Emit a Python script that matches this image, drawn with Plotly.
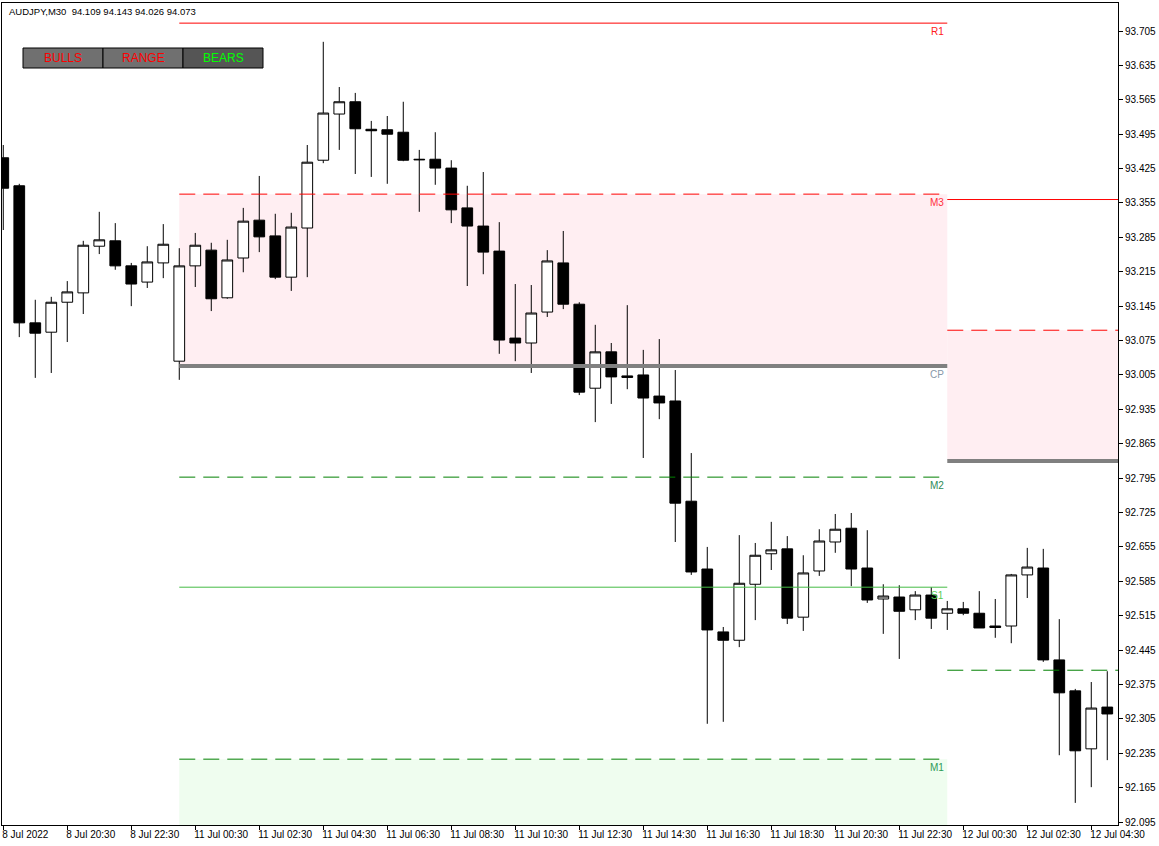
import plotly.graph_objects as go

# ---------------- data ----------------
symbol_header = "AUDJPY,M30\u00a0 94.109 94.143 94.026 94.073"

bar_index = list(range(70))
opens = [93.447, 93.390, 93.111, 93.092, 93.153, 93.172, 93.267, 93.278, 93.227, 93.194,
         93.233, 93.033, 93.227, 93.259, 93.162, 93.243, 93.320, 93.288, 93.204, 93.304,
         93.442, 93.536, 93.561, 93.505, 93.504, 93.499, 93.444, 93.444, 93.426, 93.345,
         93.308, 93.257, 93.080, 93.070, 93.133, 93.233, 93.149, 92.978, 93.052, 93.003,
         93.005, 92.962, 92.952, 92.748, 92.610, 92.482, 92.465, 92.579, 92.641, 92.651,
         92.512, 92.606, 92.665, 92.693, 92.612, 92.549, 92.553, 92.527, 92.557, 92.520,
         92.529, 92.520, 92.494, 92.494, 92.598, 92.612, 92.425, 92.362, 92.244, 92.329]
highs = [93.473, 93.394, 93.158, 93.164, 93.196, 93.278, 93.337, 93.314, 93.233, 93.267,
         93.312, 93.263, 93.294, 93.274, 93.280, 93.345, 93.410, 93.333, 93.335, 93.473,
         93.683, 93.591, 93.579, 93.522, 93.532, 93.561, 93.463, 93.499, 93.442, 93.390,
         93.418, 93.316, 93.190, 93.188, 93.259, 93.298, 93.153, 93.107, 93.070, 93.147,
         93.056, 93.078, 93.015, 92.846, 92.655, 92.492, 92.679, 92.663, 92.706, 92.677,
         92.638, 92.691, 92.722, 92.724, 92.689, 92.579, 92.577, 92.565, 92.573, 92.545,
         92.543, 92.565, 92.549, 92.600, 92.653, 92.651, 92.508, 92.366, 92.380, 92.402]
lows = [93.300, 93.082, 92.999, 93.009, 93.072, 93.129, 93.251, 93.219, 93.145, 93.182,
        93.202, 92.995, 93.184, 93.135, 93.160, 93.214, 93.255, 93.200, 93.176, 93.204,
        93.436, 93.463, 93.414, 93.408, 93.394, 93.440, 93.337, 93.392, 93.314, 93.186,
        93.210, 93.048, 93.033, 93.009, 93.123, 93.139, 92.964, 92.909, 92.946, 92.976,
        92.836, 92.915, 92.665, 92.598, 92.295, 92.299, 92.451, 92.506, 92.608, 92.498,
        92.484, 92.596, 92.643, 92.575, 92.541, 92.478, 92.427, 92.506, 92.488, 92.486,
        92.516, 92.490, 92.470, 92.459, 92.551, 92.421, 92.231, 92.134, 92.166, 92.221]
closes = [93.385, 93.111, 93.090, 93.153, 93.174, 93.269, 93.280, 93.227, 93.190, 93.235,
          93.271, 93.227, 93.269, 93.160, 93.239, 93.318, 93.286, 93.204, 93.306, 93.438,
          93.538, 93.561, 93.506, 93.502, 93.495, 93.442, 93.443, 93.426, 93.341, 93.308,
          93.255, 93.076, 93.070, 93.131, 93.237, 93.149, 92.970, 93.052, 93.001, 93.000,
          92.958, 92.948, 92.744, 92.604, 92.486, 92.465, 92.581, 92.638, 92.649, 92.510,
          92.602, 92.667, 92.691, 92.610, 92.547, 92.555, 92.524, 92.557, 92.510, 92.529,
          92.520, 92.490, 92.491, 92.598, 92.614, 92.425, 92.358, 92.240, 92.327, 92.315]

x_tick_bars = [0, 4, 8, 12, 16, 20, 24, 28, 32, 36, 40, 44, 48, 52, 56, 60, 64, 68]
x_tick_labels = ["8 Jul 2022", "8 Jul 20:30", "8 Jul 22:30",
                 "11 Jul 00:30", "11 Jul 02:30", "11 Jul 04:30", "11 Jul 06:30",
                 "11 Jul 08:30", "11 Jul 10:30", "11 Jul 12:30", "11 Jul 14:30",
                 "11 Jul 16:30", "11 Jul 18:30", "11 Jul 20:30", "11 Jul 22:30",
                 "12 Jul 00:30", "12 Jul 02:30", "12 Jul 04:30"]

y_tick_values = [92.095, 92.165, 92.235, 92.305, 92.375, 92.445, 92.515, 92.585,
                 92.655, 92.725, 92.795, 92.865, 92.935, 93.005, 93.075, 93.145,
                 93.215, 93.285, 93.355, 93.425, 93.495, 93.565, 93.635, 93.705]
y_tick_labels = ["92.095", "92.165", "92.235", "92.305", "92.375", "92.445", "92.515", "92.585",
                 "92.655", "92.725", "92.795", "92.865", "92.935", "93.005", "93.075", "93.145",
                 "93.215", "93.285", "93.355", "93.425", "93.495", "93.565", "93.635", "93.705"]
y_min, y_max = 92.089, 93.762

# pivot levels (day 1: 11 Jul, day 2: 12 Jul)
day1_start, day1_end = 11, 59
day1_names = ["R1", "M3", "CP", "M2", "S1", "M1"]
day1_values = [93.721, 93.373, 93.023, 92.797, 92.573, 92.223]
day2_start, day2_end = 59, 71
day2_names = ["R1", "M3", "CP", "M2"]
day2_values = [93.362, 93.096, 92.830, 92.404]

button_labels = ["BULLS", "RANGE", "BEARS"]

# ---------------- styles ----------------
FONT = "Liberation Sans, Arial, sans-serif"
DASH = "16px,8px"
level_style = {
    "R1": dict(color="#FF0000", width=1, dash="solid"),
    "M3": dict(color="#FF0000", width=1, dash=DASH),
    "CP": dict(color="#808080", width=4, dash="solid"),
    "M2": dict(color="#008000", width=1, dash=DASH),
    "S1": dict(color="#44BB44", width=1, dash="solid"),
    "M1": dict(color="#008000", width=1, dash=DASH),
}
label_color = {"R1": "#FF2020", "M3": "#FF3040", "CP": "#8898A8",
               "M2": "#2E8B57", "S1": "#55CC55", "M1": "#2E9B57"}
button_fill = {"BULLS": "#707070", "RANGE": "#707070", "BEARS": "#555555"}
button_text = {"BULLS": "#FF0000", "RANGE": "#FF0000", "BEARS": "#00FF00"}

fig = go.Figure()

# zones (background)
d1 = dict(zip(day1_names, day1_values))
d2 = dict(zip(day2_names, day2_values))
zones = [
    (day1_start, day1_end, d1["CP"], d1["M3"], "#FFEEF2"),
    (day1_start, day1_end, y_min, d1["M1"], "#EFFDEF"),
    (day2_start, day2_end, d2["CP"], d2["M3"], "#FFEEF2"),
]
for x0, x1, ya, yb, col in zones:
    fig.add_shape(type="rect", xref="x", yref="y", x0=x0, x1=x1, y0=ya, y1=yb,
                  fillcolor=col, line=dict(width=0), layer="below")

fig.add_trace(go.Candlestick(
    x=bar_index, open=opens, high=highs, low=lows, close=closes,
    increasing=dict(fillcolor="white", line=dict(color="black", width=1)),
    decreasing=dict(fillcolor="black", line=dict(color="black", width=1)),
    whiskerwidth=0, hoverinfo="skip", showlegend=False))

# level lines
for start, end, names, values in [(day1_start, day1_end, day1_names, day1_values),
                                  (day2_start, day2_end, day2_names, day2_values)]:
    for n, v in zip(names, values):
        fig.add_trace(go.Scatter(x=[start, end], y=[v, v], mode="lines",
                                 line=level_style[n], hoverinfo="skip", showlegend=False))

# labels of day-1 levels
for n, v in zip(day1_names, day1_values):
    fig.add_annotation(x=day1_end - 0.05, y=v, xref="x", yref="y", text=n, showarrow=False,
                       xanchor="right", yanchor="top", yshift=-1,
                       font=dict(family=FONT, size=10, color=label_color[n]))

# ---------------- layout ----------------
W, H = 1159, 846
ML, MR, MT, MB = 2, 41, 3, 21
PW, PH = W - ML - MR, H - MT - MB


def px(xp):
    return (xp - ML) / PW


def py(yp):
    return 1 - (yp - MT) / PH


# header text
fig.add_annotation(x=px(7), y=py(4), xref="paper", yref="paper", text=symbol_header,
                   showarrow=False, xanchor="left", yanchor="top",
                   font=dict(family=FONT, size=9.5, color="black"))

# buttons
for i, lab in enumerate(button_labels):
    bx0, bx1 = 23 + 80 * i, 103 + 80 * i
    by0, by1 = 48, 68
    fig.add_shape(type="rect", xref="paper", yref="paper", x0=px(bx0), x1=px(bx1),
                  y0=py(by1), y1=py(by0), fillcolor=button_fill[lab],
                  line=dict(color="black", width=1), layer="above")
    fig.add_annotation(x=px((bx0 + bx1) / 2), y=py((by0 + by1) / 2), xref="paper", yref="paper",
                       text=lab, showarrow=False, xanchor="center", yanchor="middle",
                       font=dict(family=FONT, size=12, color=button_text[lab]))

fig.update_layout(
    width=W, height=H, margin=dict(l=ML, r=MR, t=MT, b=MB, pad=0),
    plot_bgcolor="white", paper_bgcolor="white", showlegend=False, hovermode=False,
    boxgap=0.33, boxgroupgap=0,
)
fig.update_xaxes(
    range=[-0.08, 69.67], tickmode="array", tickvals=x_tick_bars, ticktext=x_tick_labels,
    ticks="outside", ticklen=4, tickcolor="black", ticklabelposition="outside right",
    ticklabelshift=-2,
    showgrid=False, zeroline=False, showline=True, linecolor="black", linewidth=1, mirror=True,
    rangeslider=dict(visible=False), tickfont=dict(family=FONT, size=10, color="black"),
)
fig.update_yaxes(
    side="right", range=[y_min, y_max], tickmode="array", tickvals=y_tick_values,
    ticktext=y_tick_labels, ticks="outside", ticklen=4, tickcolor="black",
    showgrid=False, zeroline=False, showline=True, linecolor="black", linewidth=1, mirror=True,
    tickfont=dict(family=FONT, size=10, color="black"),
)

fig.write_html("out.html", config={"displayModeBar": False},
               post_script="document.body.style.margin='0px';document.body.style.overflow='hidden';")
